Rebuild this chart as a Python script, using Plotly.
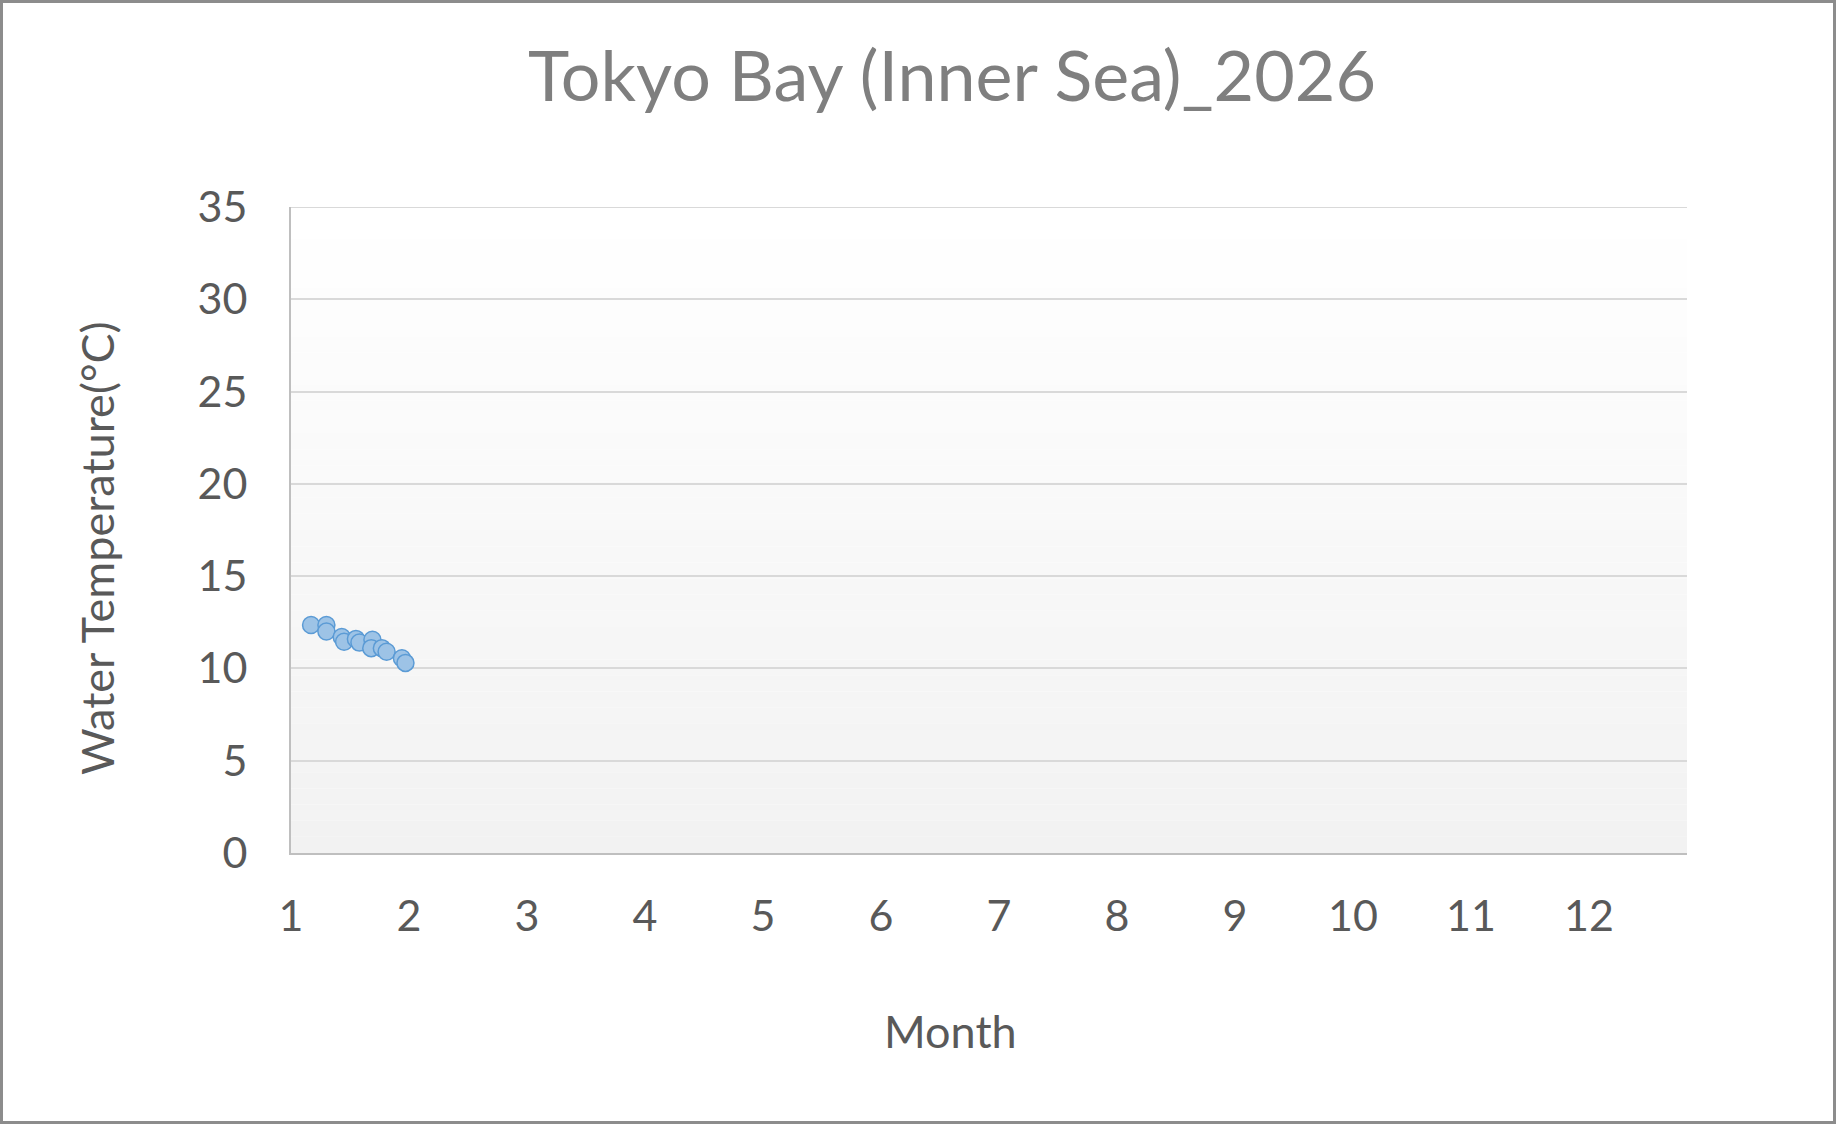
import plotly.graph_objects as go

# Data (month as fractional value, water temperature in °C)
month = [1.17, 1.30, 1.30, 1.43, 1.45, 1.55, 1.58, 1.69, 1.68, 1.77, 1.81, 1.94, 1.97]
temp = [12.35, 12.35, 12.0, 11.7, 11.45, 11.6, 11.4, 11.55, 11.1, 11.1, 10.9, 10.55, 10.3]

x_ticks = list(range(1, 13))
y_ticks = list(range(0, 36, 5))

W, H = 1836, 1124
L, R, T, B = 291, 149, 207, 271
FONT = "Lato"

fig = go.Figure()
fig.add_trace(go.Scatter(
    x=month, y=temp, mode="markers",
    marker=dict(size=17, color="#9dc3e6", line=dict(color="#5b9bd5", width=1.5)),
    showlegend=False,
))

shapes = []
# vertical gradient plot background (white at top -> light gray at bottom)
n = 40
for i in range(n):
    f = i / (n - 1)
    v = int(round(255 - (255 - 242) * f))
    shapes.append(dict(
        type="rect", xref="x domain", yref="y domain", layer="below",
        x0=0, x1=1, y0=1 - (i + 1) / n, y1=1 - i / n,
        fillcolor=f"rgb({v},{v},{v})", line=dict(width=0),
    ))
# top gridline (at the last y tick, on the plot edge)
shapes.append(dict(
    type="line", xref="x domain", yref="y", layer="above",
    x0=0, x1=1, y0=y_ticks[-1], y1=y_ticks[-1],
    line=dict(color="#d9d9d9", width=2),
))
# chart border
pw = W - L - R
ph = H - T - B
shapes.append(dict(
    type="rect", xref="paper", yref="paper", layer="above",
    x0=-(L - 1.5) / pw, x1=1 + (R - 1.5) / pw,
    y0=-(B - 1.5) / ph, y1=1 + (T - 1.5) / ph,
    line=dict(color="#8c8c8c", width=3), fillcolor="rgba(0,0,0,0)",
))

fig.update_layout(
    width=W, height=H,
    margin=dict(l=L, r=R, t=T, b=B, autoexpand=False),
    paper_bgcolor="white", plot_bgcolor="rgba(0,0,0,0)",
    font=dict(family=FONT, color="#595959"),
    title=dict(text="Tokyo Bay (Inner Sea)_2026", x=952 / W, xanchor="center",
               y=1 - 76 / H, yanchor="middle",
               font=dict(size=70, color="#7f7f7f", family=FONT)),
    shapes=shapes,
    annotations=[
        dict(text="Water Temperature(°C)", xref="paper", yref="paper",
             x=-(L - 97) / pw, y=(853 - 548) / ph, textangle=-90,
             showarrow=False, xanchor="center", yanchor="middle",
             font=dict(size=45, color="#595959", family=FONT)),
        dict(text="Month", xref="paper", yref="paper",
             x=(950 - L) / pw, y=-(1031 - 853) / ph,
             showarrow=False, xanchor="center", yanchor="middle",
             font=dict(size=45, color="#595959", family=FONT)),
    ],
)
fig.update_xaxes(
    range=[1, 1 + (1687 - 291) / 118.0], tickvals=x_ticks,
    ticktext=[str(v) for v in x_ticks],
    showgrid=False, zeroline=False,
    showline=True, linecolor="#bfbfbf", linewidth=2,
    ticks="", ticklabelstandoff=24,
    tickfont=dict(size=43, color="#595959", family=FONT),
)
fig.update_yaxes(
    range=[0, 35], tickvals=y_ticks,
    showgrid=True, gridcolor="#d9d9d9", gridwidth=2, zeroline=False,
    showline=True, linecolor="#bfbfbf", linewidth=2,
    ticks="", ticklabelstandoff=33,
    tickfont=dict(size=43, color="#595959", family=FONT),
)

fig.write_html("out.html", config={"displayModeBar": False},
               post_script="document.body.style.margin='0px';")
